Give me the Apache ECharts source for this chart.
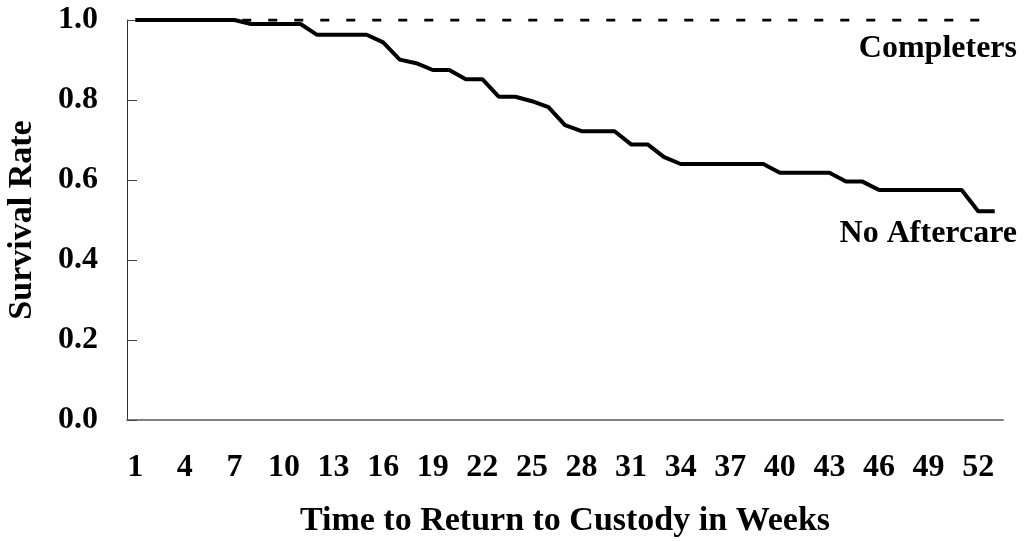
<!DOCTYPE html>
<html>
<head>
<meta charset="utf-8">
<script src="https://cdn.jsdelivr.net/npm/echarts@6/dist/echarts.min.js"></script>
<style>
  html, body { margin: 0; padding: 0; background: #fff; }
  #chart { width: 1025px; height: 541px; }
</style>
</head>
<body>
<div id="chart"></div>
<script>
// weeks 1..53
const weeks = ["1", "2", "3", "4", "5", "6", "7", "8", "9", "10",
  "11", "12", "13", "14", "15", "16", "17", "18", "19", "20",
  "21", "22", "23", "24", "25", "26", "27", "28", "29", "30",
  "31", "32", "33", "34", "35", "36", "37", "38", "39", "40",
  "41", "42", "43", "44", "45", "46", "47", "48", "49", "50",
  "51", "52", "53"];

const noAftercare = [1.0, 1.0, 1.0, 1.0, 1.0, 1.0, 1.0, 0.99, 0.99, 0.99,
  0.99, 0.963, 0.963, 0.963, 0.963, 0.944, 0.901, 0.892, 0.875, 0.875,
  0.852, 0.852, 0.808, 0.808, 0.797, 0.782, 0.737, 0.722, 0.722, 0.722,
  0.689, 0.689, 0.657, 0.64, 0.64, 0.64, 0.64, 0.64, 0.64, 0.618,
  0.618, 0.618, 0.618, 0.596, 0.596, 0.575, 0.575, 0.575, 0.575, 0.575,
  0.575, 0.522, 0.522];

const completers = [1, 1, 1, 1, 1, 1, 1, 1, 1, 1,
  1, 1, 1, 1, 1, 1, 1, 1, 1, 1,
  1, 1, 1, 1, 1, 1, 1, 1, 1, 1,
  1, 1, 1, 1, 1, 1, 1, 1, 1, 1,
  1, 1, 1, 1, 1, 1, 1, 1, 1, 1,
  1, 1, 1];

const yTicks = [0, 0.2, 0.4, 0.6, 0.8, 1.0];

const font = "Liberation Serif";

const chart = echarts.init(document.getElementById("chart"));
chart.setOption({
  animation: false,
  grid: { left: 127, right: 22, top: 20, bottom: 121, outerBoundsMode: "none" },
  xAxis: {
    type: "category",
    data: weeks,
    boundaryGap: true,
    name: "Time to Return to Custody in Weeks",
    nameLocation: "middle",
    nameGap: 84,
    nameTextStyle: { fontFamily: font, fontWeight: "bold", fontSize: 34, color: "#000" },
    axisLine: { lineStyle: { color: "#808080", width: 2 } },
    axisTick: { interval: 2, inside: true, length: 10, lineStyle: { color: "#000" } },
    axisLabel: { interval: 2, margin: 32, fontFamily: font, fontWeight: "bold", fontSize: 32, color: "#000" },
    splitLine: { show: false }
  },
  yAxis: {
    type: "value",
    min: yTicks[0],
    max: yTicks[yTicks.length - 1],
    interval: 0.2,
    name: "Survival Rate",
    nameLocation: "middle",
    nameGap: 88,
    nameTextStyle: { fontFamily: font, fontWeight: "bold", fontSize: 34, color: "#000" },
    axisLine: { show: true, lineStyle: { color: "#303030", width: 1 } },
    axisTick: { show: true, inside: true, length: 10, lineStyle: { color: "#404040" } },
    axisLabel: {
      margin: 29, fontFamily: font, fontWeight: "bold", fontSize: 32, color: "#000",
      formatter: (v) => v.toFixed(1)
    },
    splitLine: { show: false }
  },
  series: [
    {
      name: "Completers",
      type: "line",
      data: completers,
      showSymbol: false,
      lineStyle: { color: "#000", width: 3, type: [9, 17], dashOffset: 23 },
      z: 2
    },
    {
      name: "No Aftercare",
      type: "line",
      data: noAftercare,
      showSymbol: false,
      lineStyle: { color: "#000", width: 4 },
      z: 3
    }
  ],
  graphic: [
    {
      type: "text", right: 8, top: 33,
      style: { text: "Completers", font: "bold 32px '" + font + "'", fill: "#000" }
    },
    {
      type: "text", right: 8, top: 218,
      style: { text: "No Aftercare", font: "bold 32px '" + font + "'", fill: "#000" }
    }
  ]
});
</script>
</body>
</html>
